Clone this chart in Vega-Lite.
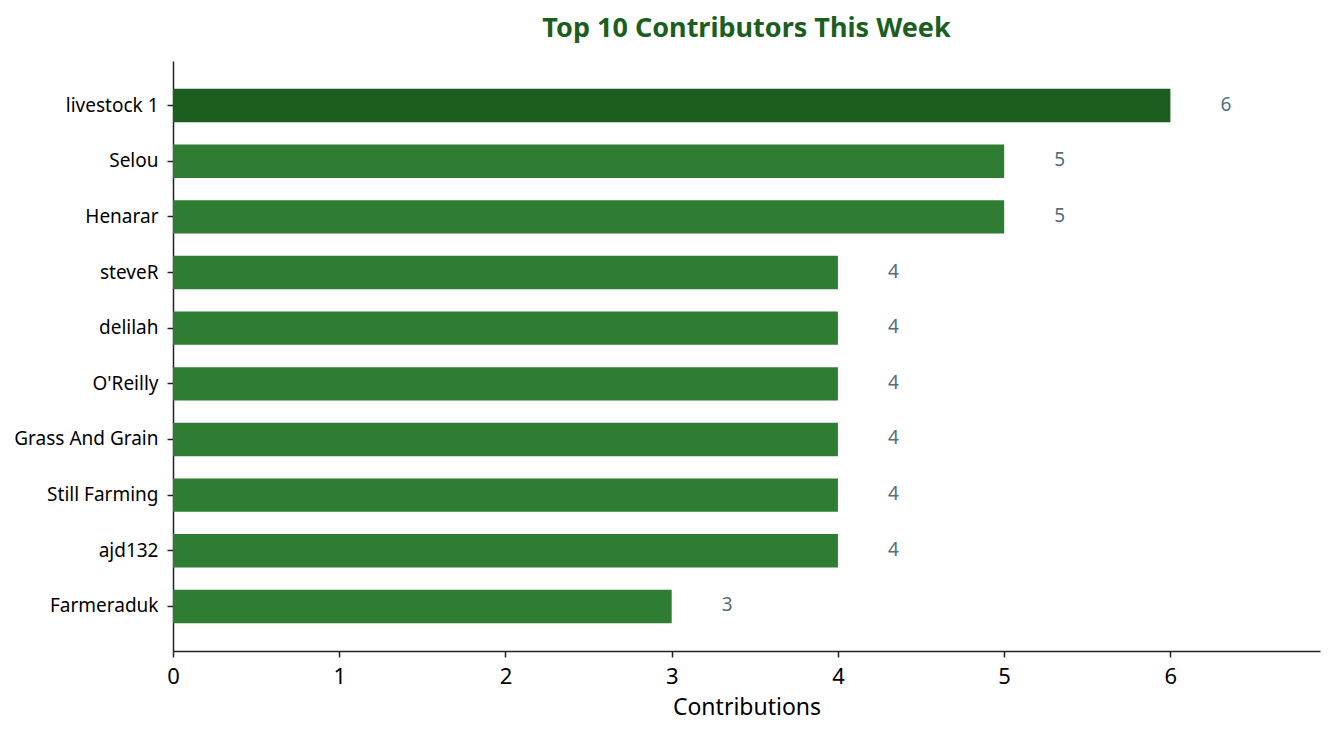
{
  "$schema": "https://vega.github.io/schema/vega-lite/v6.json",
  "autosize": "none",
  "width": 1147,
  "height": 590,
  "padding": {"left": 173, "top": 61, "right": 15, "bottom": 84},
  "background": "white",
  "config": {"view": {"stroke": null}, "font": "Noto Sans"},
  "title": {"text": "Top 10 Contributors This Week", "font": "Noto Sans", "fontSize": 27, "fontWeight": "bold", "color": "#1b5e20", "anchor": "middle", "offset": 18},
  "data": {"values": [
    {"name": "livestock 1", "count": 6, "top": true},
    {"name": "Selou", "count": 5, "top": false},
    {"name": "Henarar", "count": 5, "top": false},
    {"name": "steveR", "count": 4, "top": false},
    {"name": "delilah", "count": 4, "top": false},
    {"name": "O'Reilly", "count": 4, "top": false},
    {"name": "Grass And Grain", "count": 4, "top": false},
    {"name": "Still Farming", "count": 4, "top": false},
    {"name": "ajd132", "count": 4, "top": false},
    {"name": "Farmeraduk", "count": 3, "top": false}
  ]},
  "encoding": {
    "y": {"field": "name", "type": "nominal", "sort": null,
      "scale": {"paddingInner": 0.4, "paddingOuter": 0.5},
      "axis": {"title": null, "labelFontSize": 19, "labelColor": "#000000", "labelFont": "Noto Sans", "domainColor": "#222222", "domainWidth": 1.5, "tickColor": "#222222", "tickWidth": 1.5, "tickSize": 6, "labelPadding": 9}},
    "x": {"field": "count", "type": "quantitative",
      "scale": {"domain": [0, 6.9], "nice": false},
      "axis": {"title": "Contributions", "values": [0,1,2,3,4,5,6], "grid": false, "labelFlush": false, "labelFontSize": 22, "labelColor": "#000000", "labelFont": "Noto Sans", "titleFontSize": 23, "titleFontWeight": "normal", "titleColor": "#000000", "titleFont": "Noto Sans", "domainColor": "#222222", "domainWidth": 1.5, "tickColor": "#222222", "tickWidth": 1.5, "tickSize": 6, "labelPadding": 9, "titlePadding": 9}}
  },
  "layer": [
    {"mark": {"type": "bar"},
     "encoding": {"color": {"field": "top", "type": "nominal", "scale": {"domain": [true, false], "range": ["#1b5e20", "#2e7d32"]}, "legend": null}}},
    {"mark": {"type": "text", "align": "left", "baseline": "middle", "dx": 50, "dy": -1, "fontSize": 19, "color": "#546e7a", "font": "Noto Sans"},
     "encoding": {"text": {"field": "count", "type": "quantitative"}}}
  ]
}
